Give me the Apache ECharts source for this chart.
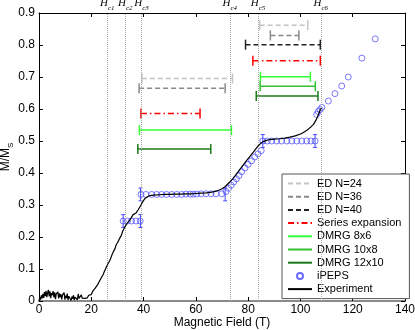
<!DOCTYPE html>
<html>
<head>
<meta charset="utf-8">
<script src="https://cdn.jsdelivr.net/npm/echarts@6/dist/echarts.min.js"></script>
<style>
  html, body { margin: 0; padding: 0; background: #fff; }
  #main { width: 415px; height: 330px; }
</style>
</head>
<body>
<div id="main"></div>
<script>
var chartDom = document.getElementById('main')
var myChart = echarts.init(chartDom)
var option

// critical fields (T)
const hcNames = ['c1', 'c2', 'c3', 'c4', 'c5', 'c6']
const hcFields = [26.1, 33.0, 39.2, 73.0, 83.8, 107.8]

// plateau ranges: [from, to, M/Ms]
const ed24 = [[39.4, 74.0, 0.695], [84.4, 102.8, 0.862]]
const ed36 = [[38.3, 71.2, 0.665], [88.5, 99.4, 0.830]]
const ed40 = [[79.0, 107.6, 0.801]]
const seriesExp = [[39.0, 61.6, 0.586], [81.8, 107.6, 0.751]]
const dmrg8x6 = [[38.4, 73.6, 0.534], [84.7, 103.8, 0.701]]
const dmrg10x8 = [[84.6, 105.7, 0.671]]
const dmrg12x10 = [[37.8, 65.7, 0.475], [83.1, 106.7, 0.641]]

// iPEPS
const ipepsX = [32.2, 33.8, 35.4, 37.1, 38.7,
  39.0, 40.9, 43.1, 45.0, 46.9, 48.8, 50.8, 52.7, 54.6, 56.2, 57.8, 59.0, 60.3, 62.0, 63.9, 65.8, 67.7, 69.9, 71.5,
  72.5, 73.5, 74.5, 75.5, 76.5, 77.5, 78.8, 80.0, 81.3, 82.5, 83.8, 85.0,
  85.6, 87.3, 89.0, 90.9, 92.8, 94.8, 96.7, 98.6, 100.5, 102.4, 104.0, 105.6,
  106.2, 106.8, 107.5, 108.2, 110.7, 113.2, 115.8, 118.3, 123.5, 128.6]
const ipepsY = [0.25, 0.25, 0.25, 0.25, 0.25,
  0.333, 0.333, 0.333, 0.333, 0.333, 0.333, 0.333, 0.333, 0.333, 0.334, 0.334, 0.334, 0.334, 0.335, 0.335, 0.335, 0.335, 0.335, 0.342,
  0.352, 0.362, 0.372, 0.382, 0.392, 0.404, 0.416, 0.427, 0.438, 0.45, 0.46, 0.47,
  0.5, 0.5, 0.5, 0.5, 0.5, 0.5, 0.5, 0.5, 0.5, 0.5, 0.5, 0.5,
  0.583, 0.592, 0.598, 0.605, 0.625, 0.648, 0.672, 0.70, 0.759, 0.819]
// [field, M/Ms, error]
const ipepsErr = [[32.2, 0.25, 0.02], [38.8, 0.25, 0.02], [38.8, 0.333, 0.02],
  [71.2, 0.333, 0.02], [85.6, 0.5, 0.02], [105.6, 0.5, 0.02]]

// experiment
const expX = [0.0, 0.3, 0.6, 0.9, 1.2, 1.5, 1.8, 2.1, 2.4, 2.7, 3.0, 3.3, 3.6, 3.9, 4.2, 4.5, 4.8, 5.1, 5.4, 5.7,
  6.0, 6.3, 6.6, 6.9, 7.2, 7.5, 7.8, 8.1, 8.4, 8.7, 9.0, 9.3, 9.6, 9.9, 10.2, 10.5, 10.8, 11.1, 11.4, 11.7,
  12.0, 12.3, 12.6, 12.9, 13.2, 13.5, 13.8, 14.1, 14.4, 14.7, 15.0, 15.3, 15.6, 15.9, 16.2, 16.5, 16.8, 17.1,
  17.5, 18, 18.5, 19, 19.5, 20, 20.5, 21, 21.5, 22, 22.5, 23, 23.5, 24, 24.5, 25, 25.5, 26, 26.5, 27, 27.5,
  28, 28.5, 29, 29.5, 30, 30.5, 31, 31.5, 32, 32.5, 33, 33.5, 34, 34.5, 35, 35.5, 36, 36.5, 37, 37.5, 38,
  38.5, 39, 39.5, 40, 40.5, 41, 42, 43, 44, 46, 48, 50, 52, 54, 56, 58, 60, 62, 64, 66, 67, 68, 69, 70,
  71, 72, 73, 74, 75, 76, 77, 78, 79, 80, 81, 82, 83, 84, 85, 86, 87, 88, 90, 92, 94, 96, 98, 100, 101,
  102, 103, 104, 105, 105.5, 106, 106.5, 107, 107.5, 108]
const expY = [0.000, 0.012, 0.004, 0.018, 0.008, 0.022, 0.010, 0.028, 0.015, 0.032, 0.012, 0.026, 0.035, 0.014, 0.030, 0.009, 0.025, 0.018, 0.031, 0.011,
  0.027, 0.006, 0.022, 0.016, 0.029, 0.008, 0.024, 0.012, 0.021, 0.005, 0.019, 0.013, 0.026, 0.004, 0.017, 0.009, 0.023, 0.003, 0.015, 0.010,
  0.020, 0.002, 0.014, 0.007, 0.018, 0.003, 0.012, 0.006, 0.016, 0.004, 0.022, 0.008, 0.013, 0.005, 0.019, 0.009, 0.015, 0.011,
  0.008, 0.014, 0.010, 0.018, 0.022, 0.020, 0.030, 0.034, 0.040, 0.045, 0.052, 0.060, 0.065, 0.075, 0.082, 0.092, 0.098, 0.110, 0.118, 0.125, 0.135,
  0.146, 0.155, 0.162, 0.175, 0.182, 0.190, 0.198, 0.205, 0.218, 0.226, 0.234, 0.238, 0.246, 0.252, 0.256, 0.260, 0.270, 0.272, 0.274, 0.280, 0.286,
  0.292, 0.300, 0.308, 0.314, 0.320, 0.324, 0.328, 0.330, 0.331, 0.332, 0.333, 0.333, 0.334, 0.334, 0.335, 0.335, 0.336, 0.337, 0.338, 0.340, 0.342, 0.344, 0.347, 0.351,
  0.356, 0.364, 0.372, 0.381, 0.391, 0.402, 0.413, 0.424, 0.435, 0.445, 0.455, 0.465, 0.476, 0.486, 0.494, 0.499, 0.502, 0.504, 0.506, 0.507, 0.509, 0.512, 0.516, 0.522, 0.526,
  0.531, 0.537, 0.544, 0.552, 0.558, 0.566, 0.575, 0.585, 0.596, 0.603]

const legendNames = ['ED N=24', 'ED N=36', 'ED N=40', 'Series expansion', 'DMRG 8x6', 'DMRG 10x8', 'DMRG 12x10', 'iPEPS', 'Experiment']

const rangeStyles = [
  { name: 'ED N=24', data: ed24, color: '#c4c4c4', dash: [5, 3], width: 1.5 },
  { name: 'ED N=36', data: ed36, color: '#8a8a8a', dash: [5, 3], width: 1.5 },
  { name: 'ED N=40', data: ed40, color: '#222222', dash: [5, 3], width: 1.5 },
  { name: 'Series expansion', data: seriesExp, color: '#ff0000', dash: [6, 3, 1.5, 3], width: 1.5 },
  { name: 'DMRG 8x6', data: dmrg8x6, color: '#33ff33', dash: null, width: 1.5 },
  { name: 'DMRG 10x8', data: dmrg10x8, color: '#33c033', dash: null, width: 1.5 },
  { name: 'DMRG 12x10', data: dmrg12x10, color: '#1a7a1a', dash: null, width: 1.5 }
]

const blue = '#4646ff'
const zip = (xs, ys) => xs.map((x, i) => [x, ys[i]])
const font = 'Liberation Sans'
const noDot = { color: 'rgba(0,0,0,0)', borderWidth: 0 }

// legend entries (drawn as line icons)
const legendSeries = rangeStyles.map(s => ({
  name: s.name,
  type: 'line',
  data: [],
  symbol: 'none',
  lineStyle: { color: s.color, width: s.width, type: s.dash || 'solid' },
  itemStyle: { color: s.color }
}))

// the plateau bars with end caps
const rangeSeries = rangeStyles.map(s => ({
  name: s.name,
  type: 'custom',
  data: s.data,
  encode: { x: [0, 1], y: 2 },
  z: 3,
  renderItem: function (params, api) {
    const p1 = api.coord([api.value(0), api.value(2)])
    const p2 = api.coord([api.value(1), api.value(2)])
    const cap = 5
    return {
      type: 'group',
      children: [
        { type: 'line', shape: { x1: p1[0], y1: p1[1], x2: p2[0], y2: p2[1] },
          style: { stroke: s.color, lineWidth: s.width, lineDash: s.dash || null } },
        { type: 'line', shape: { x1: p1[0], y1: p1[1] - cap, x2: p1[0], y2: p1[1] + cap },
          style: { stroke: s.color, lineWidth: s.width } },
        { type: 'line', shape: { x1: p2[0], y1: p2[1] - cap, x2: p2[0], y2: p2[1] + cap },
          style: { stroke: s.color, lineWidth: s.width } }
      ]
    }
  }
}))

option = {
  animation: false,
  backgroundColor: '#fff',
  textStyle: { fontFamily: font },
  grid: { left: 39, top: 13, width: 366, height: 288, outerBoundsMode: 'none' },
  legend: {
    data: legendNames.map(n => (n === 'iPEPS' ? { name: n } : { name: n, itemStyle: noDot })),
    orient: 'vertical',
    left: 282,
    top: 174,
    width: 123,
    padding: [3, 8, 3, 5],
    itemWidth: 24,
    itemHeight: 6,
    itemGap: 0.2,
    backgroundColor: '#fff',
    borderColor: '#555',
    borderWidth: 1,
    borderRadius: 0,
    inactiveColor: '#ccc',
    textStyle: { fontFamily: font, fontSize: 11, color: '#000', lineHeight: 13 }
  },
  xAxis: [
    {
      type: 'value', position: 'bottom', min: 0, max: 140, interval: 20,
      name: 'Magnetic Field (T)', nameLocation: 'middle', nameGap: 16, nameMoveOverlap: false,
      nameTextStyle: { fontFamily: font, fontSize: 12, color: '#000' },
      axisLine: { onZero: false, lineStyle: { color: '#8a8a8a', width: 2 } },
      axisTick: { inside: true, length: 4, lineStyle: { color: '#000' } },
      axisLabel: { fontFamily: font, fontSize: 12, color: '#000', margin: 3 },
      splitLine: { show: false }
    },
    {
      type: 'value', position: 'top', min: 0, max: 140, interval: 20,
      axisLine: { onZero: false, lineStyle: { color: '#000', width: 1 } },
      axisTick: { inside: true, length: 4, lineStyle: { color: '#000' } },
      axisLabel: { show: false },
      splitLine: { show: false }
    }
  ],
  yAxis: [
    {
      type: 'value', position: 'left', min: 0, max: 0.9, interval: 0.1,
      name: '{m|M/M}{s|S}', nameLocation: 'middle', nameGap: 24, nameMoveOverlap: false,
      nameTextStyle: {
        rich: {
          m: { fontFamily: font, fontSize: 12, color: '#000', padding: [0, 0, 3, 0], verticalAlign: 'bottom' },
          s: { fontFamily: font, fontSize: 8, color: '#000', verticalAlign: 'bottom' }
        }
      },
      axisLine: { onZero: false, lineStyle: { color: '#000', width: 1 } },
      axisTick: { inside: true, length: 4, lineStyle: { color: '#000' } },
      axisLabel: {
        fontFamily: font, fontSize: 12, color: '#000', margin: 4,
        formatter: v => (v === 0 ? '0' : v.toFixed(1))
      },
      splitLine: { show: false }
    },
    {
      type: 'value', position: 'right', min: 0, max: 0.9, interval: 0.1,
      axisLine: { onZero: false, lineStyle: { color: '#000', width: 1 } },
      axisTick: { inside: true, length: 4, lineStyle: { color: '#000' } },
      axisLabel: { show: false },
      splitLine: { show: false }
    }
  ],
  series: [
    ...legendSeries,
    {
      name: 'iPEPS',
      type: 'scatter',
      data: zip(ipepsX, ipepsY),
      symbol: 'circle',
      symbolSize: 6,
      z: 4,
      itemStyle: { color: 'rgba(0,0,0,0)', borderColor: blue, borderWidth: 0.9 }
    },
    {
      name: 'Experiment',
      type: 'line',
      data: zip(expX, expY),
      symbol: 'none',
      z: 5,
      lineStyle: { color: '#000', width: 1.2 },
      itemStyle: { color: '#000' }
    },
    ...rangeSeries,
    {
      name: 'iPEPS',
      type: 'custom',
      data: ipepsErr,
      encode: { x: 0, y: 1 },
      z: 4,
      renderItem: function (params, api) {
        const x = api.value(0), y = api.value(1), e = api.value(2)
        const lo = api.coord([x, y - e])
        const hi = api.coord([x, y + e])
        const st = { stroke: blue, lineWidth: 1 }
        return {
          type: 'group',
          children: [
            { type: 'line', shape: { x1: lo[0], y1: lo[1], x2: hi[0], y2: hi[1] }, style: st },
            { type: 'line', shape: { x1: lo[0] - 2, y1: lo[1], x2: lo[0] + 2, y2: lo[1] }, style: st },
            { type: 'line', shape: { x1: hi[0] - 2, y1: hi[1], x2: hi[0] + 2, y2: hi[1] }, style: st }
          ]
        }
      }
    },
    {
      name: 'Hc',
      type: 'line',
      data: [],
      z: 1,
      markLine: {
        silent: true,
        symbol: 'none',
        lineStyle: { color: '#aaaaaa', type: 'dotted', width: 1 },
        label: {
          show: true,
          position: 'end',
          distance: 1,
          formatter: p => '{h|H}{s|' + p.name + '}',
          rich: {
            h: { fontFamily: 'Liberation Serif', fontStyle: 'italic', fontSize: 11, color: '#000', padding: [0, 0, 3, 0], verticalAlign: 'bottom' },
            s: { fontFamily: 'Liberation Serif', fontStyle: 'italic', fontSize: 7, color: '#000', verticalAlign: 'bottom' }
          }
        },
        data: hcFields.map((v, i) => ({ name: hcNames[i], xAxis: v }))
      }
    }
  ]
}

option && myChart.setOption(option)
</script>
</body>
</html>
